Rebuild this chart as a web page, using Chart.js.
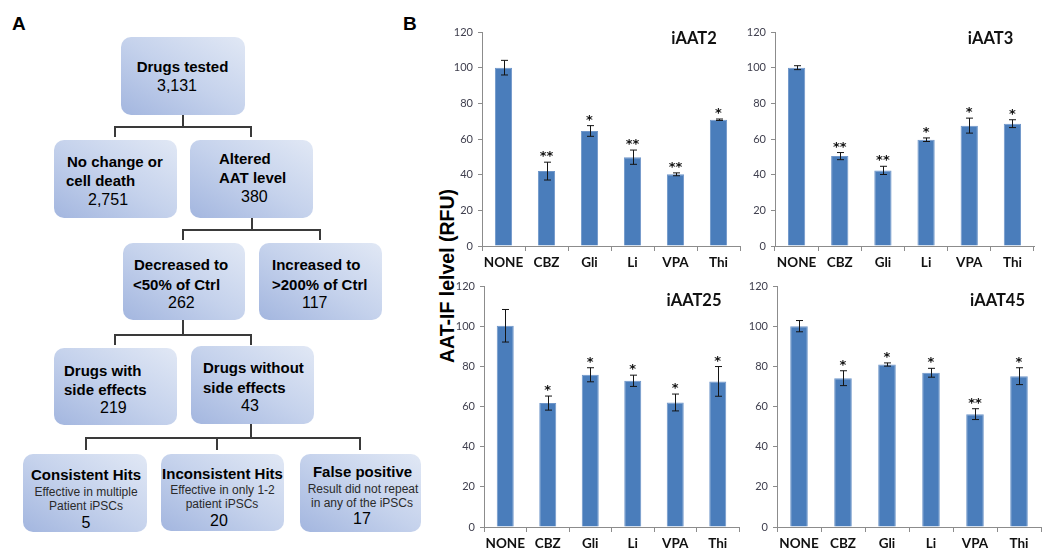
<!DOCTYPE html>
<html>
<head>
<meta charset="utf-8">
<script src="https://cdn.jsdelivr.net/npm/chart.js@4.4.1/dist/chart.umd.min.js"></script>
<style>
  html,body{margin:0;padding:0;background:#fff;}
  body{width:1050px;height:559px;position:relative;overflow:hidden;font-family:"Liberation Sans",Arial,sans-serif;color:#000;}
  .box{position:absolute;border-radius:10px;background:linear-gradient(to top right,#a3b6df 0%,#c5d2ec 50%,#e1e8f5 100%);}
  .ln{position:absolute;background:#3a3a3a;}
  .t{position:absolute;white-space:nowrap;line-height:1;transform:translateY(-50%);}
  .c{transform:translate(-50%,-50%);}
  .b{font-weight:bold;font-size:15px;}
  .n{font-size:16px;}
  .s{font-size:12px;color:#2a2a2a;}
  .panel{position:absolute;font-weight:bold;font-size:19px;line-height:1;}
  .ytitle{position:absolute;left:448px;top:276px;transform:translate(-50%,-50%) rotate(-90deg);font-weight:bold;font-size:19.5px;white-space:nowrap;line-height:1;}
  .ctitle{position:absolute;font-family:Lato,sans-serif;font-weight:bold;font-size:16.5px;transform:translate(-50%,-50%);line-height:1;white-space:nowrap;color:#111;}
  canvas{position:absolute;}
</style>
</head>
<body>
<script>
// ---------- data ----------
const categories = ['NONE', 'CBZ', 'Gli', 'Li', 'VPA', 'Thi'];
const yTicksMin = 0, yTicksMax = 120, yTickStep = 20;

const iAAT2Values = [100, 42, 64.5, 49.8, 40.2, 70.8];
const iAAT2Errors = [4.1, 5.0, 3.0, 4.0, 0.8, 0.4];
const iAAT2Stars  = ['', '**', '*', '**', '**', '*'];

const iAAT3Values = [100, 50.4, 42.4, 59.6, 67.5, 68.6];
const iAAT3Errors = [1.1, 2.0, 2.3, 1.0, 4.2, 2.2];
const iAAT3Stars  = ['', '**', '**', '*', '*', '*'];

const iAAT25Values = [100.2, 61.7, 75.8, 72.8, 62.0, 72.5];
const iAAT25Errors = [8.1, 3.5, 3.5, 2.8, 4.2, 7.4];
const iAAT25Stars  = ['', '*', '*', '*', '*', '*'];

const iAAT45Values = [100, 74.1, 80.9, 76.8, 56.2, 75.1];
const iAAT45Errors = [2.8, 3.7, 0.8, 2.2, 2.7, 4.2];
const iAAT45Stars  = ['', '*', '*', '*', '**', '*'];

const yAxisTitle = 'AAT-IF lelvel (RFU)';
</script>

<!-- Panel A : flowchart -->
<div class="panel" style="left:12px;top:14px;">A</div>
<div class="panel" style="left:403px;top:14px;">B</div>

<div class="box" style="left:121px;top:37px;width:124px;height:78px;"></div>
<div class="box" style="left:54px;top:140px;width:123px;height:78px;"></div>
<div class="box" style="left:190px;top:140px;width:123px;height:78px;"></div>
<div class="box" style="left:123px;top:243px;width:122px;height:77px;"></div>
<div class="box" style="left:259px;top:243px;width:123px;height:77px;"></div>
<div class="box" style="left:54px;top:348px;width:123px;height:77px;"></div>
<div class="box" style="left:191px;top:346px;width:123px;height:78px;"></div>
<div class="box" style="left:23px;top:454px;width:124px;height:78px;"></div>
<div class="box" style="left:161px;top:454px;width:123px;height:77px;"></div>
<div class="box" style="left:300px;top:454px;width:121px;height:78px;"></div>

<!-- connectors -->
<div class="ln" style="left:182px;top:115px;width:2px;height:13px;"></div>
<div class="ln" style="left:114px;top:126px;width:138px;height:2px;"></div>
<div class="ln" style="left:114px;top:126px;width:2px;height:11px;"></div>
<div class="ln" style="left:250px;top:126px;width:2px;height:11px;"></div>

<div class="ln" style="left:251px;top:218px;width:2px;height:13px;"></div>
<div class="ln" style="left:182px;top:229px;width:139px;height:2px;"></div>
<div class="ln" style="left:182px;top:229px;width:2px;height:11px;"></div>
<div class="ln" style="left:319px;top:229px;width:2px;height:11px;"></div>

<div class="ln" style="left:182px;top:320px;width:2px;height:16px;"></div>
<div class="ln" style="left:114px;top:334px;width:138px;height:2px;"></div>
<div class="ln" style="left:114px;top:334px;width:2px;height:11px;"></div>
<div class="ln" style="left:250px;top:334px;width:2px;height:11px;"></div>

<div class="ln" style="left:250px;top:424px;width:2px;height:15px;"></div>
<div class="ln" style="left:85px;top:437px;width:276px;height:2px;"></div>
<div class="ln" style="left:85px;top:437px;width:2px;height:13px;"></div>
<div class="ln" style="left:216px;top:437px;width:2px;height:13px;"></div>
<div class="ln" style="left:359px;top:437px;width:2px;height:13px;"></div>

<!-- box texts -->
<div class="t c b" style="left:182.5px;top:66px;">Drugs tested</div>
<div class="t c n" style="left:177px;top:86px;">3,131</div>

<div class="t b" style="left:67px;top:161px;">No change or</div>
<div class="t b" style="left:66px;top:180px;">cell death</div>
<div class="t n" style="left:88px;top:200px;">2,751</div>

<div class="t b" style="left:219px;top:158px;">Altered</div>
<div class="t b" style="left:219px;top:177px;">AAT level</div>
<div class="t n" style="left:241px;top:197px;">380</div>

<div class="t b" style="left:134px;top:264px;">Decreased to</div>
<div class="t b" style="left:133px;top:284px;">&lt;50% of Ctrl</div>
<div class="t n" style="left:168px;top:303px;">262</div>

<div class="t b" style="left:272px;top:264px;">Increased to</div>
<div class="t b" style="left:272px;top:284px;">&gt;200% of Ctrl</div>
<div class="t n" style="left:302px;top:303px;">117</div>

<div class="t b" style="left:64px;top:370px;">Drugs with</div>
<div class="t b" style="left:64px;top:389px;">side effects</div>
<div class="t n" style="left:100px;top:408px;">219</div>

<div class="t b" style="left:203px;top:367px;">Drugs without</div>
<div class="t b" style="left:203px;top:387px;">side effects</div>
<div class="t n" style="left:241px;top:406px;">43</div>

<div class="t c b" style="left:86px;top:474px;">Consistent Hits</div>
<div class="t c s" style="left:86px;top:492px;">Effective in multiple</div>
<div class="t c s" style="left:86px;top:506px;">Patient iPSCs</div>
<div class="t c n" style="left:86px;top:523px;">5</div>

<div class="t c b" style="left:222.5px;top:473px;">Inconsistent Hits</div>
<div class="t c s" style="left:222.5px;top:490px;">Effective in only 1-2</div>
<div class="t c s" style="left:222px;top:504px;">patient iPSCs</div>
<div class="t c n" style="left:219px;top:521px;">20</div>

<div class="t c b" style="left:362.5px;top:471px;">False positive</div>
<div class="t c s" style="left:363px;top:489px;">Result did not repeat</div>
<div class="t c s" style="left:362px;top:503px;">in any of the iPSCs</div>
<div class="t c n" style="left:362px;top:519px;">17</div>

<!-- Panel B -->
<div class="ytitle" id="ytitle"></div>
<canvas id="c1" width="305" height="256" style="left:440px;top:20px;"></canvas>
<canvas id="c2" width="305" height="256" style="left:733px;top:20px;"></canvas>
<canvas id="c3" width="302" height="283" style="left:442px;top:274px;"></canvas>
<canvas id="c4" width="310" height="283" style="left:735px;top:274px;"></canvas>
<div class="ctitle" style="left:694px;top:38px;">iAAT2</div>
<div class="ctitle" style="left:990.5px;top:38px;">iAAT3</div>
<div class="ctitle" style="left:694px;top:300px;">iAAT25</div>
<div class="ctitle" style="left:997.5px;top:300px;">iAAT45</div>

<script>
document.getElementById('ytitle').textContent = yAxisTitle;
Chart.defaults.font.family = 'Lato, "Liberation Sans", sans-serif';

const errorStarPlugin = {
  id: 'errorStars',
  afterDatasetsDraw(chart) {
    const ctx = chart.ctx;
    const ds = chart.data.datasets[0];
    const meta = chart.getDatasetMeta(0);
    const y = chart.scales.y;
    ctx.save();
    ctx.strokeStyle = '#141414';
    ctx.lineWidth = 1;
    meta.data.forEach((bar, i) => {
      const v = ds.data[i], e = ds.errors[i];
      const x = Math.round(bar.x) + 0.5;
      const yt = y.getPixelForValue(v + e);
      const yb = y.getPixelForValue(v - e);
      const cap = 3.5;
      ctx.beginPath();
      ctx.moveTo(x, yt); ctx.lineTo(x, yb);
      ctx.moveTo(x - cap, yt); ctx.lineTo(x + cap, yt);
      ctx.moveTo(x - cap, yb); ctx.lineTo(x + cap, yb);
      ctx.stroke();
      const s = ds.stars[i];
      if (s) {
        ctx.fillStyle = '#111';
        ctx.font = 'bold 13px "DejaVu Sans", sans-serif';
        ctx.textAlign = 'center';
        ctx.textBaseline = 'alphabetic';
        ctx.fillText(s, bar.x, yt - 2);
      }
    });
    ctx.restore();
  }
};

function makeChart(id, values, errors, stars, yAxisW, padTop, padRight) {
  new Chart(document.getElementById(id), {
    type: 'bar',
    data: {
      labels: categories,
      datasets: [{
        data: values,
        errors: errors,
        stars: stars,
        backgroundColor: '#4a7dbb',
        borderColor: '#6f96c9',
        borderWidth: 1,
        barPercentage: 0.4,
        categoryPercentage: 1.0
      }]
    },
    options: {
      responsive: false,
      animation: false,
      events: [],
      layout: { padding: { top: padTop, right: padRight, left: 0, bottom: 0 } },
      plugins: { legend: { display: false }, tooltip: { enabled: false }, title: { display: false } },
      scales: {
        x: {
          offset: true,
          grid: { offset: true, drawOnChartArea: false, drawTicks: true, tickLength: 5, color: '#8c8c8c' },
          border: { display: true, color: '#8c8c8c', width: 1 },
          ticks: { color: '#111', font: { size: 13.5, weight: 'bold' }, padding: 4, maxRotation: 0 },
          afterFit(scale) { scale.height = 30; }
        },
        y: {
          min: yTicksMin, max: yTicksMax,
          ticks: { stepSize: yTickStep, color: '#40404f', font: { size: 11 }, padding: 5 },
          grid: { drawOnChartArea: false, drawTicks: true, tickLength: 4, color: '#8c8c8c' },
          border: { display: true, color: '#8c8c8c', width: 1 },
          afterFit(scale) { scale.width = yAxisW; }
        }
      }
    },
    plugins: [errorStarPlugin]
  });
}

makeChart('c1', iAAT2Values, iAAT2Errors, iAAT2Stars, 42, 12, 5);
makeChart('c2', iAAT3Values, iAAT3Errors, iAAT3Stars, 42, 12, 4);
makeChart('c3', iAAT25Values, iAAT25Errors, iAAT25Stars, 42, 12, 5);
makeChart('c4', iAAT45Values, iAAT45Errors, iAAT45Stars, 42, 12, 4);
</script>
</body>
</html>
